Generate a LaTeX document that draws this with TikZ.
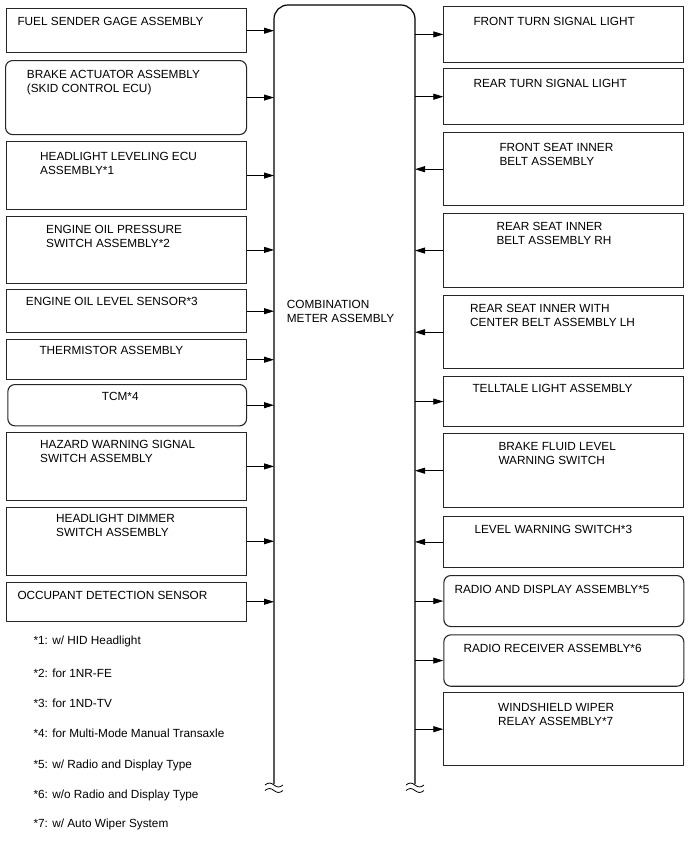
\documentclass[tikz,border=0pt]{standalone}
\usepackage{fontspec}
\setmainfont{Liberation Sans}
\usetikzlibrary{arrows.meta, positioning}

\begin{document}
\begin{tikzpicture}[x=1pt, y=-1pt,
        every node/.style={font=\fontsize{11.8}{14}\selectfont},
        box/.style={draw=black!85, line width=1.1pt, anchor=north west, inner sep=0pt, minimum width=240pt},
        rbox/.style={box, rounded corners=7pt},
        txt/.style={anchor=north west, inner sep=0pt, align=left},
        sig/.style={-{Triangle[length=10pt, width=6pt]}, line width=0.8pt},
        brk/.pic={\draw[line width=0.8pt] (-9,0) sin (-4.5,-2) cos (0,0) sin (4.5,2) cos (9,0);}]

        \useasboundingbox (0,0) rectangle (688,852);

        % --- CENTER: Combination Meter ---
        \draw[line width=1.2pt] (274,784) -- (274,19) arc[start angle=180, end angle=270, radius=14]
            -- (401,5) arc[start angle=270, end angle=360, radius=14] -- (415,784);
        \coordinate (mL) at (274,0);
        \coordinate (mR) at (415,0);
        \node[txt] (meter) at (286.7,300) {COMBINATION\\METER ASSEMBLY};
        \pic at (274,785) {brk};
        \pic at (274,790.5) {brk};
        \pic at (415,785) {brk};
        \pic at (415,790.5) {brk};

        % --- LEFT: inputs ---
        \node[box, minimum height=44.3pt] (fuel) at (6,8) {};
        \node[txt] (fuel-t) at (17.3,17.3) {FUEL SENDER GAGE ASSEMBLY};

        \node[rbox, minimum width=241pt, minimum height=74pt] (brake) at (5,60) {};
        \node[txt] (brake-t) at (26.7,70) {BRAKE ACTUATOR ASSEMBLY\\(SKID CONTROL ECU)};

        \node[box, minimum height=68pt] (hlev) at (6,141) {};
        \node[txt] (hlev-t) at (40,152) {HEADLIGHT LEVELING ECU\\ASSEMBLY*1};

        \node[box, minimum height=67.3pt] (oilp) at (6,215.7) {};
        \node[txt] (oilp-t) at (46,225) {ENGINE OIL PRESSURE\\SWITCH ASSEMBLY*2};

        \node[box, minimum height=43.3pt] (oill) at (6,289) {};
        \node[txt] (oill-t) at (25.7,297.3) {ENGINE OIL LEVEL SENSOR*3};

        \node[box, minimum height=39.7pt] (therm) at (6,339.3) {};
        \node[txt] (therm-t) at (39.3,346) {THERMISTOR ASSEMBLY};

        \node[rbox, minimum width=238.7pt, minimum height=41.3pt] (tcm) at (7.3,384) {};
        \node[txt] (tcm-t) at (101.7,391.7) {TCM*4};

        \node[box, minimum height=68.3pt] (hazard) at (6,431.7) {};
        \node[txt] (hazard-t) at (40,440) {HAZARD WARNING SIGNAL\\SWITCH ASSEMBLY};

        \node[box, minimum height=68pt] (dimmer) at (6,506.7) {};
        \node[txt] (dimmer-t) at (56,514.3) {HEADLIGHT DIMMER\\SWITCH ASSEMBLY};

        \node[box, minimum height=39pt] (occ) at (6,581.7) {};
        \node[txt] (occ-t) at (17.3,591) {OCCUPANT DETECTION SENSOR};

        \draw[sig] (fuel.east) -- (fuel.east -| mL);
        \draw[sig] (brake.east) -- (brake.east -| mL);
        \draw[sig] (hlev.east) -- (hlev.east -| mL);
        \draw[sig] (oilp.east) -- (oilp.east -| mL);
        \draw[sig] (oill.east) -- (oill.east -| mL);
        \draw[sig] (therm.east) -- (therm.east -| mL);
        \draw[sig] (tcm.east) -- (tcm.east -| mL);
        \draw[sig] (hazard.east) -- (hazard.east -| mL);
        \draw[sig] (dimmer.east) -- (dimmer.east -| mL);
        \draw[sig] (occ.east) -- (occ.east -| mL);

        % --- RIGHT: outputs and inputs ---
        \node[box, minimum height=55.7pt] (fturn) at (443.3,6) {};
        \node[txt] (fturn-t) at (473.3,16.7) {FRONT TURN SIGNAL LIGHT};

        \node[box, minimum height=55.7pt] (rturn) at (443.3,68.3) {};
        \node[txt] (rturn-t) at (473.3,79) {REAR TURN SIGNAL LIGHT};

        \node[box, minimum height=72.7pt] (fbelt) at (443.3,132.3) {};
        \node[txt] (fbelt-t) at (499.3,143.3) {FRONT SEAT INNER\\BELT ASSEMBLY};

        \node[box, minimum height=73.4pt] (rhbelt) at (443.3,213.3) {};
        \node[txt] (rhbelt-t) at (496.3,222.3) {REAR SEAT INNER\\BELT ASSEMBLY RH};

        \node[box, minimum height=73.3pt] (lhbelt) at (443.3,295) {};
        \node[txt] (lhbelt-t) at (470,304) {REAR SEAT INNER WITH\\CENTER BELT ASSEMBLY LH};

        \node[box, minimum height=50pt] (tell) at (443.3,376) {};
        \node[txt] (tell-t) at (472.3,384) {TELLTALE LIGHT ASSEMBLY};

        \node[box, minimum height=73.7pt] (bfluid) at (443.3,433.3) {};
        \node[txt] (bfluid-t) at (498.3,442.3) {BRAKE FLUID LEVEL\\WARNING SWITCH};

        \node[box, minimum height=50.7pt] (lvl) at (443.3,516) {};
        \node[txt] (lvl-t) at (474.3,525) {LEVEL WARNING SWITCH*3};

        \node[rbox, minimum height=51pt] (rdisp) at (443.3,575) {};
        \node[txt] (rdisp-t) at (454.3,585) {RADIO AND DISPLAY ASSEMBLY*5};

        \node[rbox, minimum height=51.4pt] (rrecv) at (443.3,634.3) {};
        \node[txt] (rrecv-t) at (463.3,644) {RADIO RECEIVER ASSEMBLY*6};

        \node[box, minimum height=72.7pt] (wiper) at (443.3,692.3) {};
        \node[txt] (wiper-t) at (498,703.3) {WINDSHIELD WIPER\\RELAY ASSEMBLY*7};

        \draw[sig] (fturn.west -| mR) -- (fturn.west);
        \draw[sig] (rturn.west -| mR) -- (rturn.west);
        \draw[sig] (fbelt.west) -- (fbelt.west -| mR);
        \draw[sig] (rhbelt.west) -- (rhbelt.west -| mR);
        \draw[sig] (lhbelt.west) -- (lhbelt.west -| mR);
        \draw[sig] (tell.west -| mR) -- (tell.west);
        \draw[sig] (bfluid.west) -- (bfluid.west -| mR);
        \draw[sig] (lvl.west) -- (lvl.west -| mR);
        \draw[sig] (rdisp.west -| mR) -- (rdisp.west);
        \draw[sig] (rrecv.west -| mR) -- (rrecv.west);
        \draw[sig] (wiper.west -| mR) -- (wiper.west);

        % --- Footnotes ---
        \node[txt] (n1) at (33.3,636) {*1: w/ HID Headlight};
        \node[txt] (n2) at (33.3,668.3) {*2: for 1NR-FE};
        \node[txt] (n3) at (33.3,698.3) {*3: for 1ND-TV};
        \node[txt] (n4) at (33.3,728.3) {*4: for Multi-Mode Manual Transaxle};
        \node[txt] (n5) at (33.3,759.3) {*5: w/ Radio and Display Type};
        \node[txt] (n6) at (33.3,789.3) {*6: w/o Radio and Display Type};
        \node[txt] (n7) at (33.3,819) {*7: w/ Auto Wiper System};

\end{tikzpicture}
\end{document}
